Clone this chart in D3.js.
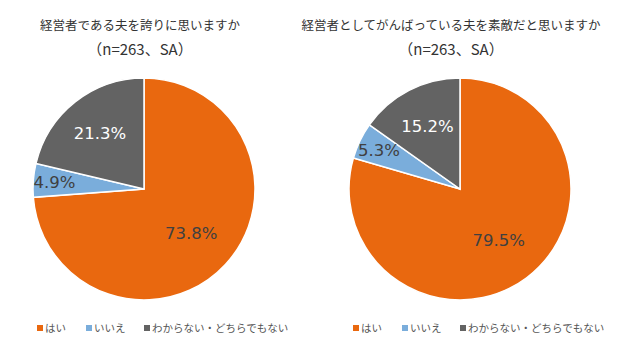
<!DOCTYPE html>
<html>
<head>
<meta charset="utf-8">
<script src="https://cdn.jsdelivr.net/npm/d3@7"></script>
<style>
  body { margin: 0; background: #fff; }
  text { font-family: "Noto Sans CJK JP", "Noto Sans", sans-serif; }
</style>
</head>
<body>
<div id="chart"></div>
<script>
const width = 630
const height = 350

// datos
const categories = ["はい", "いいえ", "わからない・どちらでもない"]
const colors = ["#E9680F", "#7AADDB", "#636363"]
const titles = ["経営者である夫を誇りに思いますか", "経営者としてがんばっている夫を素敵だと思いますか"]
const subtitle = "（n=263、SA）"
const valuesLeft = [73.8, 4.9, 21.3]
const valuesRight = [79.5, 5.3, 15.2]

const svg = d3.select("div#chart")
  .append("svg")
  .attr("width", width)
  .attr("height", height)

const radius = 111
const pie = d3.pie().sort(null).value(d => d)
const arc = d3.arc().innerRadius(0).outerRadius(radius)

function labelRadius(v) {
  if (v > 50) return radius * 0.58
  if (v >= 15) return radius * 0.64
  return radius * 0.81
}

function drawPie(values, cx, cy, title, titleX) {
  const g = svg.append("g")
    .attr("transform", `translate(${cx}, ${cy})`)

  g.selectAll("path").data(pie(values))
    .join("path")
    .attr("d", arc)
    .attr("fill", (d, i) => colors[i])
    .attr("stroke", "#fff")
    .attr("stroke-width", 1.5)

  g.selectAll("text.pct").data(pie(values))
    .join("text")
    .attr("class", "pct")
    .attr("transform", d => {
      const r = labelRadius(d.data)
      const c = d3.arc().innerRadius(r).outerRadius(r).centroid(d)
      return `translate(${c[0]}, ${c[1]})`
    })
    .attr("text-anchor", "middle")
    .attr("dy", "0.36em")
    .attr("fill", (d, i) => i == 2 ? "#fff" : "#404040")
    .style("font-family", "'DejaVu Sans', sans-serif")
    .style("font-size", "16.5px")
    .text(d => d.data.toFixed(1) + "%")

  svg.append("text")
    .attr("x", titleX)
    .attr("y", 30)
    .attr("text-anchor", "middle")
    .attr("fill", "#333")
    .style("font-size", "12.5px")
    .text(title)

  svg.append("text")
    .attr("x", titleX)
    .attr("y", 55)
    .attr("text-anchor", "middle")
    .attr("fill", "#333")
    .style("font-size", "15px")
    .text(subtitle)
}

function drawLegend(x0) {
  const offsets = [0, 49, 107]
  const lg = svg.append("g").attr("transform", `translate(${x0}, 328)`)
  categories.forEach((c, i) => {
    lg.append("rect")
      .attr("x", offsets[i])
      .attr("y", -3)
      .attr("width", 6)
      .attr("height", 6)
      .attr("fill", colors[i])
    lg.append("text")
      .attr("x", offsets[i] + 8)
      .attr("y", 0)
      .attr("dy", "0.35em")
      .attr("fill", "#555")
      .style("font-size", "10.5px")
      .text(c)
  })
}

drawPie(valuesLeft, 144, 189, titles[0], 140)
drawPie(valuesRight, 460, 189, titles[1], 451)
drawLegend(37)
drawLegend(353)
</script>
</body>
</html>
